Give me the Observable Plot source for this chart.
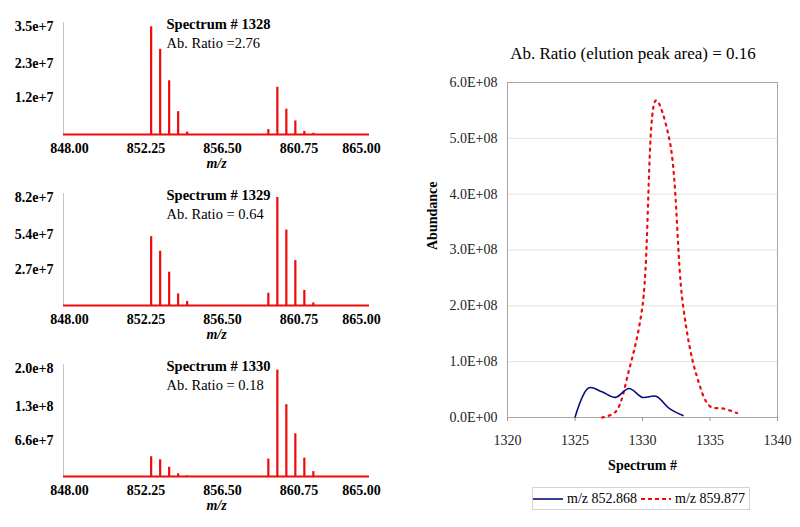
<!DOCTYPE html>
<html><head><meta charset="utf-8">
<script src="https://cdn.jsdelivr.net/npm/d3@7"></script>
<script src="https://cdn.jsdelivr.net/npm/@observablehq/plot@0.6"></script>
<style>
body{margin:0;background:#fff;width:800px;height:527px;overflow:hidden;font-family:"Liberation Serif","Times New Roman",serif;position:relative;}
.abs{position:absolute;}
#title{left:438px;top:40px;width:390px;height:28px;line-height:28px;text-align:center;font-size:17px;color:#000;}
#legend{left:532px;top:487px;width:218px;height:23px;border:1px solid #d4d4d4;box-sizing:border-box;display:flex;align-items:center;justify-content:center;font-size:14px;color:#000;white-space:nowrap;}
#legend span{margin:0 4px 0 4px;}
</style></head><body>
<div id="p0" class="abs" style="left:0;top:0"></div>
<div id="p1" class="abs" style="left:0;top:171px"></div>
<div id="p2" class="abs" style="left:0;top:342px"></div>
<div id="title" class="abs"></div>
<div id="elution" class="abs" style="left:410px;top:68px"></div>
<div id="legend" class="abs"></div>
<script>
// ---- Left: mass spectra ----
const mzPeaks   = [852.87, 853.37, 853.87, 854.37, 854.87, 859.38, 859.88, 860.38, 860.88, 861.38, 861.88];
const spec1328  = [3.49e7, 2.76e7, 1.74e7, 0.74e7, 0.08e7, 0.16e7, 1.53e7, 0.82e7, 0.44e7, 0.10e7, 0.04e7];
const spec1329  = [5.23e7, 4.12e7, 2.53e7, 0.88e7, 0.30e7, 0.93e7, 8.20e7, 5.73e7, 3.41e7, 1.14e7, 0.20e7];
const spec1330  = [3.66e7, 3.10e7, 1.70e7, 0.50e7, 0.10e7, 3.23e7, 1.97e8, 1.33e8, 7.90e7, 3.40e7, 0.90e7];
const spectraTitles = ["Spectrum # 1328", "Spectrum # 1329", "Spectrum # 1330"];
const spectraRatios = ["Ab. Ratio =2.76", "Ab. Ratio = 0.64", "Ab. Ratio = 0.18"];
const spectraYTicks = [[1.2e7, 2.3e7, 3.5e7], [2.7e7, 5.4e7, 8.2e7], [6.6e7, 1.3e8, 2.0e8]];
const spectraYLabels = [["1.2e+7", "2.3e+7", "3.5e+7"], ["2.7e+7", "5.4e+7", "8.2e+7"], ["6.6e+7", "1.3e+8", "2.0e+8"]];
const mzTicks = [848, 852.25, 856.5, 860.75, 865];
const mzLabel = "m/z";

// ---- Right: elution profiles ----
const lightScans = [1325, 1326, 1327, 1328, 1329, 1330, 1331, 1332, 1333];
const lightAbund = [0.0, 0.53e8, 0.46e8, 0.36e8, 0.52e8, 0.36e8, 0.38e8, 0.16e8, 0.035e8];
const heavyScans = [1327, 1328, 1329, 1330, 1331, 1332, 1333, 1334, 1335, 1336, 1337];
const heavyAbund = [0.0, 0.10e8, 0.85e8, 2.0e8, 5.68e8, 4.97e8, 2.01e8, 0.76e8, 0.20e8, 0.16e8, 0.08e8];
const scanTicks = [1320, 1325, 1330, 1335, 1340];
const abundTicks = [0, 1e8, 2e8, 3e8, 4e8, 5e8, 6e8];
const seriesNames = ["m/z 852.868", "m/z 859.877"];
const elutionTitle = "Ab. Ratio (elution peak area) = 0.16";

const SERIF = '"Liberation Serif","Times New Roman",serif';
const RED = "#ee0a0a";
const NAVY = "#0a0a80";

const allSpectra = [spec1328, spec1329, spec1330];
allSpectra.forEach((spec, i) => {
  const peaks = mzPeaks.map((mz, j) => ({mz, ab: spec[j]}));
  const yTicks = spectraYTicks[i];
  const yLabels = spectraYLabels[i];
  const yTop = yTicks[yTicks.length - 1];
  const chart = Plot.plot({
    width: 400, height: 175,
    marginLeft: 63, marginRight: 31, marginTop: 22, marginBottom: 41,
    x: {domain: [mzTicks[0], mzTicks[mzTicks.length - 1]]},
    y: {domain: [0, yTop * 112 / 108]},
    style: {fontFamily: SERIF, fontSize: "14px", fontWeight: "bold", color: "#000", background: "transparent", overflow: "visible"},
    marks: [
      Plot.ruleX([mzTicks[0]], {stroke: "#c4c4c4", strokeWidth: 1}),
      Plot.ruleY([0], {stroke: RED, strokeWidth: 2}),
      Plot.ruleX(peaks, {x: "mz", y: "ab", stroke: RED, strokeWidth: 2.2}),
      Plot.axisY({ticks: yTicks, tickFormat: (d, k) => yLabels[k], tickSize: 0, tickPadding: 10, label: null}),
      Plot.axisX({ticks: mzTicks.slice(0, 4), tickFormat: d => d.toFixed(2), tickSize: 0, tickPadding: 9, dx: 6, label: null}),
      Plot.axisX({ticks: mzTicks.slice(4), tickFormat: d => d.toFixed(2), tickSize: 0, tickPadding: 9, dx: -8, label: null}),
      Plot.text([mzLabel], {frameAnchor: "bottom", dy: 29, lineAnchor: "middle", fontStyle: "italic", fontWeight: "bold"}),
      Plot.text([spectraTitles[i]], {frameAnchor: "top-left", dx: 103, dy: 2, textAnchor: "start", lineAnchor: "middle", fontWeight: "bold", fontSize: 14.5}),
      Plot.text([spectraRatios[i]], {frameAnchor: "top-left", dx: 103, dy: 21, textAnchor: "start", lineAnchor: "middle", fontWeight: "normal", fontSize: 14.5})
    ]
  });
  document.getElementById("p" + i).appendChild(chart);
});

// Right chart
document.getElementById("title").textContent = elutionTitle;
const lightData = lightScans.map((s, i) => ({s, v: lightAbund[i]}));
const heavyData = heavyScans.map((s, i) => ({s, v: heavyAbund[i]}));
const fmtE = v => v === 0 ? "0.0E+00" : (v / 1e8).toFixed(1) + "E+08";
const elution = Plot.plot({
  width: 390, height: 410,
  marginLeft: 97, marginRight: 23, marginTop: 14, marginBottom: 61,
  x: {domain: [scanTicks[0], scanTicks[scanTicks.length - 1]]},
  y: {domain: [abundTicks[0], abundTicks[abundTicks.length - 1]]},
  style: {fontFamily: SERIF, fontSize: "14px", color: "#000", background: "transparent", overflow: "visible"},
  marks: [
    Plot.gridY({ticks: abundTicks, stroke: "#e2e2e2", strokeOpacity: 1}),
    Plot.frame({stroke: "#a8a8a8"}),
    Plot.line(heavyData, {x: "s", y: "v", curve: "catmull-rom", stroke: RED, strokeWidth: 2.2, strokeDasharray: "2,5"}),
    Plot.line(lightData, {x: "s", y: "v", curve: "catmull-rom", stroke: NAVY, strokeWidth: 1.6}),
    Plot.axisY({ticks: abundTicks, tickFormat: fmtE, tickSize: 0, tickPadding: 10, label: null, fill: "#222"}),
    Plot.axisX({ticks: scanTicks, tickFormat: d => String(d), tickSize: 4, tickPadding: 14, label: null, stroke: "#999", fill: "#222"}),
    Plot.text(["Spectrum #"], {frameAnchor: "bottom", dy: 48.5, lineAnchor: "middle", fontWeight: "bold"}),
    Plot.text(["Abundance"], {frameAnchor: "left", dx: -75, rotate: -90, lineAnchor: "middle", fontWeight: "bold"})
  ]
});
document.getElementById("elution").appendChild(elution);

// Legend
const legend = document.getElementById("legend");
const swatch = (stroke, dash, w) => `<svg width="30" height="10" style="display:block"><line x1="0" y1="5" x2="30" y2="5" stroke="${stroke}" stroke-width="${w}" ${dash ? `stroke-dasharray="${dash}"` : ""}/></svg>`;
legend.innerHTML =
  swatch(NAVY, null, 1.6) + `<span>${seriesNames[0]}</span>` +
  swatch(RED, "4,3", 2) + `<span>${seriesNames[1]}</span>`;
</script>
</body></html>
